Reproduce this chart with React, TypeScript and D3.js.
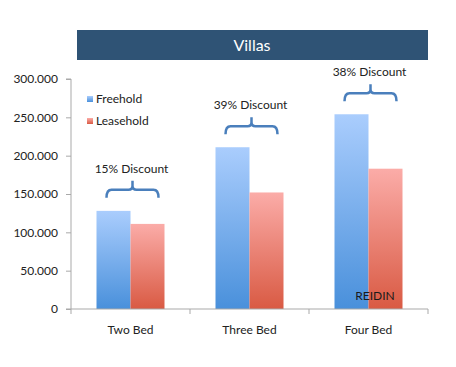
import React, { useRef, useEffect } from "react";
import * as d3 from "d3";

const categories = ["Two Bed", "Three Bed", "Four Bed"];
const seriesNames = ["Freehold", "Leasehold"];
const freehold = [128000, 211000, 254000];
const leasehold = [111000, 152000, 183000];
const discountLabels = ["15% Discount", "39% Discount", "38% Discount"];
const yTicks = [0, 50000, 100000, 150000, 200000, 250000, 300000];
const chartTitle = "Villas";
const sourceLabel = "REIDIN";

const FONT = "Lato, 'Liberation Sans', sans-serif";

export default function App() {
  const svgRef = useRef<SVGSVGElement>(null);

  useEffect(() => {
    const w = 456;
    const h = 367;
    const svg = d3.select(svgRef.current).attr("width", w).attr("height", h);
    svg.selectAll("*").remove();

    // gradients
    const defs = svg.append("defs");
    const grads = [
      { id: "gFree", top: "#aacdfd", bottom: "#4990db" },
      { id: "gLease", top: "#fbaca8", bottom: "#d95a43" },
    ];
    grads.forEach((g) => {
      const lg = defs
        .append("linearGradient")
        .attr("id", g.id)
        .attr("x1", 0)
        .attr("y1", 0)
        .attr("x2", 0)
        .attr("y2", 1);
      lg.append("stop").attr("offset", "0%").attr("stop-color", g.top);
      lg.append("stop").attr("offset", "100%").attr("stop-color", g.bottom);
    });

    // scales
    const x0 = d3.scaleBand().domain(categories).range([71, 428]).padding(0);
    const x1 = d3
      .scaleBand()
      .domain(seriesNames)
      .range([0, x0.bandwidth()])
      .paddingInner(0)
      .paddingOuter(0.75);
    const y = d3.scaleLinear().domain([0, 300000]).range([309, 79]);

    const fmt = d3
      .formatLocale({ decimal: ",", thousands: ".", grouping: [3], currency: ["", ""] })
      .format(",");

    // title bar
    svg
      .append("rect")
      .attr("x", 77)
      .attr("y", 30)
      .attr("width", 351)
      .attr("height", 30)
      .attr("fill", "#2f5375");
    svg
      .append("text")
      .attr("x", 252)
      .attr("y", 51)
      .attr("text-anchor", "middle")
      .attr("fill", "#fff")
      .style("font-family", FONT)
      .style("font-size", "16px")
      .text(chartTitle);

    // bars
    const values = [freehold, leasehold];
    const fills = ["url(#gFree)", "url(#gLease)"];
    seriesNames.forEach((s, si) => {
      svg
        .append("g")
        .selectAll("rect")
        .data(values[si])
        .join("rect")
        .attr("x", (d, i) => x0(categories[i])! + x1(s)!)
        .attr("y", (d) => y(d))
        .attr("width", x1.bandwidth())
        .attr("height", (d) => y(0) - y(d))
        .attr("fill", fills[si]);
    });

    // axes
    const axisColor = "#a9a9a9";
    const yAxis = d3
      .axisLeft(y)
      .tickValues(yTicks)
      .tickFormat((d) => fmt(d as number))
      .tickSize(5)
      .tickPadding(8);
    const gy = svg.append("g").attr("transform", "translate(71,0)").call(yAxis);
    gy.select(".domain").attr("stroke", axisColor).attr("d", `M-5,79H0V309H-5`);
    gy.selectAll(".tick line").attr("stroke", axisColor);
    gy.selectAll(".tick text")
      .attr("fill", "#222")
      .style("font-family", FONT)
      .style("font-size", "12px");

    const gx = svg.append("g").attr("transform", "translate(0,309)");
    gx.append("line")
      .attr("x1", 71)
      .attr("x2", 428)
      .attr("stroke", axisColor);
    const bounds = [...categories.map((c) => x0(c)!), 428];
    gx.selectAll(".bt")
      .data(bounds)
      .join("line")
      .attr("x1", (d) => d)
      .attr("x2", (d) => d)
      .attr("y1", 0)
      .attr("y2", 5)
      .attr("stroke", axisColor);
    gx.selectAll("text")
      .data(categories)
      .join("text")
      .attr("x", (d) => x0(d)! + x0.bandwidth() / 2)
      .attr("y", 25)
      .attr("text-anchor", "middle")
      .attr("fill", "#222")
      .style("font-family", FONT)
      .style("font-size", "12px")
      .text((d) => d);

    // legend
    const legend = svg.append("g");
    seriesNames.forEach((s, i) => {
      const ly = 99 + i * 22;
      legend
        .append("rect")
        .attr("x", 87)
        .attr("y", ly - 3)
        .attr("width", 6)
        .attr("height", 6)
        .attr("fill", fills[i]);
      legend
        .append("text")
        .attr("x", 96)
        .attr("y", ly + 4)
        .attr("fill", "#222")
        .style("font-family", FONT)
        .style("font-size", "12px")
        .text(s);
    });

    // discount braces
    const braceColor = "#4a7fbc";
    categories.forEach((c, i) => {
      const cx = x0(c)! + x0.bandwidth() / 2 + 2;
      const by = y(freehold[i]) - 21;
      const half = 26;
      const xl = cx - half;
      const xr = cx + half;
      const path = `M${xl},${by + 8} Q${xl},${by} ${xl + 5},${by} L${cx - 4},${by} Q${cx},${by} ${cx},${by - 4} L${cx},${by - 9} M${cx},${by - 4} Q${cx},${by} ${cx + 4},${by} L${xr - 5},${by} Q${xr},${by} ${xr},${by + 8}`;
      svg
        .append("path")
        .attr("d", path)
        .attr("fill", "none")
        .attr("stroke", braceColor)
        .attr("stroke-width", 2.5);
      svg
        .append("text")
        .attr("x", cx - 1)
        .attr("y", by - 17)
        .attr("text-anchor", "middle")
        .attr("fill", "#222")
        .style("font-family", FONT)
        .style("font-size", "12px")
        .text(discountLabels[i]);
    });

    // source label
    svg
      .append("text")
      .attr("x", 375)
      .attr("y", 300)
      .attr("text-anchor", "middle")
      .attr("fill", "#1a1a1a")
      .style("font-family", FONT)
      .style("font-size", "12px")
      .text(sourceLabel);
  }, []);

  return (
    <svg
      ref={svgRef}
      style={{ position: "absolute", left: 0, top: 0, background: "#fff" }}
    ></svg>
  );
}
